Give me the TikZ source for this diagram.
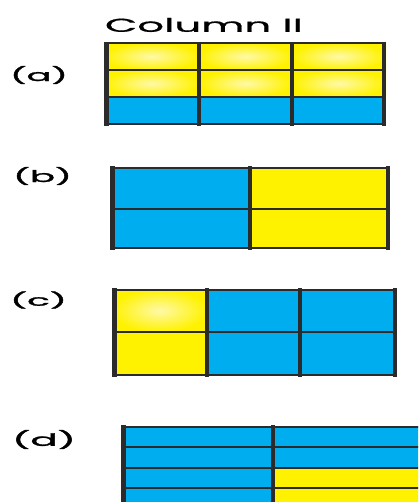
\documentclass[tikz,border=0pt]{standalone}
\usepackage{fontspec}
\setmainfont{Poppins}
\newfontfamily\headfont{Poppins}[FakeBold=0.6]
\newfontfamily\tagfont{Poppins}[FakeBold=1.4]
\definecolor{cellblue}{HTML}{00AEEF}
\definecolor{cellyellow}{HTML}{FFF200}
\definecolor{glow}{HTML}{FFF9A8}
\definecolor{gridline}{HTML}{2B2B2B}
\tikzset{
  blue cell/.style={fill=cellblue},
  yellow cell/.style={fill=cellyellow},
  glow cell/.style={inner color=glow, outer color=cellyellow},
  vline/.style={draw=gridline, line width=4pt},
  edge vline/.style={draw=gridline, line width=5pt},
  hline/.style={draw=gridline, line width=2.4pt},
  tag/.style={inner sep=0pt, anchor=center, text=black},
}
\begin{document}
\begin{tikzpicture}[x=1pt, y=-1pt]
  \useasboundingbox (0,0) rectangle (418,502);
  \fill[white] (0,0) rectangle (418,502);
  \clip (0,0) rectangle (418,502);

  % heading
  \node[tag] (head) at (204,25) {\resizebox*{198pt}{14pt}{\headfont Column II}};

  % panel labels
  \node[tag] (la) at (39,75)    {\resizebox*{58pt}{18pt}{\tagfont (a)}};
  \node[tag] (lb) at (42.5,176) {\resizebox*{59pt}{18pt}{\tagfont (b)}};
  \node[tag] (lc) at (38.5,300) {\resizebox*{57pt}{17pt}{\tagfont (c)}};
  \node[tag] (ld) at (44,439.5) {\resizebox*{64pt}{19pt}{\tagfont (d)}};

  % (a) two yellow rows over one blue row, three columns
  \foreach \xa/\xb in {104/199,199/292,292/386}{
    \shade[glow cell] (\xa,43) rectangle (\xb,70);
    \shade[glow cell] (\xa,70) rectangle (\xb,97);
    \fill[blue cell] (\xa,97) rectangle (\xb,125);
  }
  \foreach \y in {43,70,97,124}
    \draw[hline] (104,\y) -- (386,\y);
  \draw[edge vline] (106,42) -- (106,126);
  \foreach \x in {199,292,384}
    \draw[vline] (\x,42) -- (\x,126);

  % (b) blue half, yellow half, two rows
  \fill[blue cell] (110,167) rectangle (250,249);
  \fill[yellow cell] (250,167) rectangle (390,249);
  \foreach \y in {168,209,248}
    \draw[hline] (110,\y) -- (390,\y);
  \draw[edge vline] (112,166) -- (112,250);
  \foreach \x in {250,388}
    \draw[vline] (\x,166) -- (\x,250);

  % (c) one yellow column, two blue columns, two rows
  \shade[glow cell] (112,289) rectangle (207,332);
  \fill[yellow cell] (112,332) rectangle (207,376);
  \fill[blue cell] (207,289) rectangle (397,376);
  \foreach \y in {290,332,375}
    \draw[hline] (112,\y) -- (397,\y);
  \draw[edge vline] (114,288) -- (114,377);
  \foreach \x in {207,300,395}
    \draw[vline] (\x,288) -- (\x,377);

  % (d) blue column beside a column that turns yellow from the third row
  \fill[blue cell] (121,426) rectangle (273,530);
  \fill[blue cell] (273,426) rectangle (460,468);
  \fill[yellow cell] (273,468) rectangle (460,530);
  \foreach \y in {427,447,468,488,509}
    \draw[hline] (121,\y) -- (460,\y);
  \draw[edge vline] (123,425) -- (123,530);
  \draw[vline] (273,425) -- (273,530);
\end{tikzpicture}
\end{document}
